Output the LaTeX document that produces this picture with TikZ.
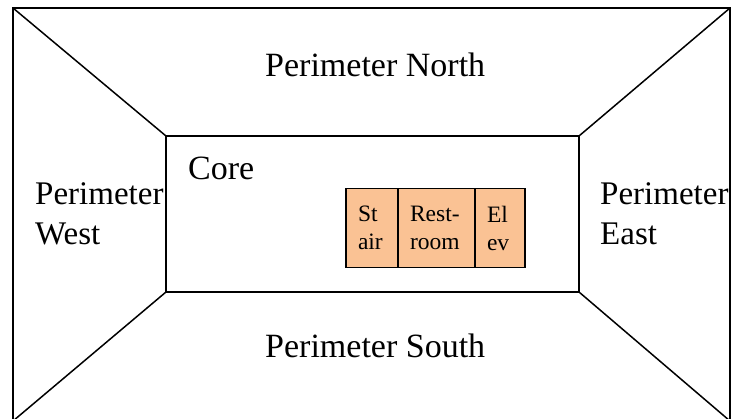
\documentclass[tikz,border=0pt]{standalone}
\usepackage{fontspec}
\setmainfont{Liberation Serif}
\definecolor{roomfill}{RGB}{250,194,148}
\begin{document}
\begin{tikzpicture}[x=1pt,y=-1pt,
  wall/.style={draw=black, line width=1.5pt, inner sep=0pt, outer sep=0pt, anchor=north west},
  zone/.style={anchor=base west, inner sep=0pt, font=\fontsize{34}{40}\selectfont, align=left},
  side/.style={zone, font=\fontsize{33}{40}\selectfont},
  room/.style={draw=black, line width=1.5pt, fill=roomfill, inner xsep=12pt, inner ysep=0pt, outer sep=0pt,
    minimum height=79pt, align=left, font=\fontsize{23.5}{28}\selectfont}]
\useasboundingbox (0,0) rectangle (732,419);
\node[wall, minimum width=717pt, minimum height=413pt] (outer) at (13,8) {};
\node[wall, minimum width=413pt, minimum height=156pt] (core) at (166,136) {};
\draw[line width=1.5pt] (outer.north west) -- (core.north west);
\draw[line width=1.5pt] (outer.north east) -- (core.north east);
\draw[line width=1.5pt] (outer.south west) -- (core.south west);
\draw[line width=1.5pt] (outer.south east) -- (core.south east);
\node[zone] (north) at (265,77) {Perimeter North};
\node[zone] (south) at (265,358) {Perimeter South};
\node[zone] (corelbl) at (188,180) {Core};
\node[side] (west) at (35,245) {Perimeter\\West};
\node[side] (east) at (600,245) {Perimeter\\East};
\node[room, text width=28pt] (stair) at (372,228) {St\\air};
\node[room, text width=53pt] (rest) at (436.5,228) {Rest-\\room};
\node[room, text width=26pt] (elev) at (500,228) {El\\ev};
\end{tikzpicture}
\end{document}
